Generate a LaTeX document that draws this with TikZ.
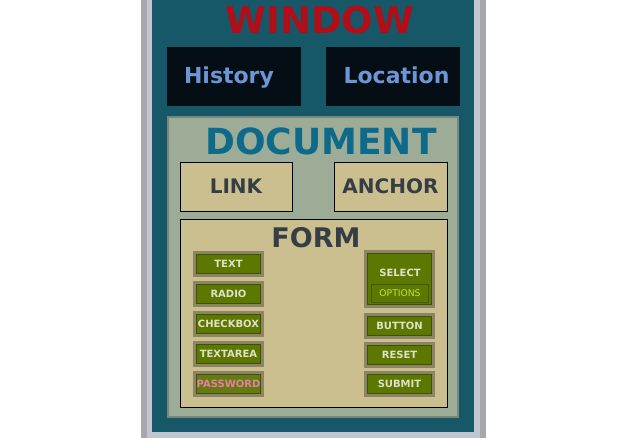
\documentclass[tikz,border=0pt]{standalone}
\usepackage{fontspec}
\setmainfont{DejaVu Sans}
\usetikzlibrary{positioning}

\definecolor{frameDark}{RGB}{166,168,174}
\definecolor{frameLight}{RGB}{194,198,206}
\definecolor{winTeal}{RGB}{22,88,104}
\definecolor{winRed}{RGB}{176,14,24}
\definecolor{barBlack}{RGB}{4,14,20}
\definecolor{barBlue}{RGB}{108,150,214}
\definecolor{docGreen}{RGB}{156,172,150}
\definecolor{docEdge}{RGB}{122,134,122}
\definecolor{docTeal}{RGB}{14,106,138}
\definecolor{formTan}{RGB}{204,191,143}
\definecolor{slate}{RGB}{52,62,68}
\definecolor{olive}{RGB}{92,120,0}
\definecolor{oliveEdge}{RGB}{62,82,0}
\definecolor{ring}{RGB}{140,132,100}
\definecolor{itemText}{RGB}{222,224,200}
\definecolor{pwPink}{RGB}{230,128,160}
\definecolor{optGreen}{RGB}{196,228,60}

\tikzset{
  bar/.style={fill=barBlack, minimum width=134pt, minimum height=59pt, inner sep=0pt},
  bartext/.style={text=barBlue, font=\bfseries\fontsize{22}{22}\selectfont},
  tanbox/.style={draw=black, line width=0.9pt, fill=formTan, inner sep=0pt},
  field/.style={preaction={draw=ring, line width=7pt}, draw=oliveEdge, line width=1.5pt,
    fill=olive, minimum width=64pt, minimum height=19pt, inner sep=0pt,
    text=itemText, font=\bfseries\fontsize{10}{10}\selectfont},
}

\begin{document}
\begin{tikzpicture}[x=1pt, y=-1pt]
  \useasboundingbox (0,0) rectangle (626,438);

  % browser frame
  \fill[frameDark] (141,0) rectangle (486,438);
  \fill[frameLight] (147,0) rectangle (480,438);
  \fill[winTeal] (152,0) rectangle (474,432);

  \node [text=winRed, font=\bfseries\fontsize{37}{37}\selectfont] (window) at (320,20) {WINDOW};
  \node [bar] (history) at (234,76.5) {};
  \node [bar] (location) at (393,76.5) {};
  \node [bartext, anchor=base] (historytext) at (229,84) {History};
  \node [bartext, anchor=base] (locationtext) at (396.5,84) {Location};

  % document
  \node [draw=docEdge, line width=2.5pt, fill=docGreen, minimum width=290pt, minimum height=300pt,
    inner sep=0pt] (document) at (313,267) {};
  \node [text=docTeal, font=\bfseries\fontsize{36}{36}\selectfont] (doctitle) at (321,141.5) {DOCUMENT};
  \node [tanbox, minimum width=112pt, minimum height=49pt, text=slate,
    font=\bfseries\fontsize{20}{20}\selectfont] (link) at (236,186.5) {LINK};
  \node [tanbox, minimum width=113pt, minimum height=49pt, text=slate,
    font=\bfseries\fontsize{20}{20}\selectfont] (anchor) at (390.5,186.5) {ANCHOR};

  % form
  \node [tanbox, minimum width=267pt, minimum height=188pt] (form) at (313.5,313) {};
  \node [text=slate, font=\bfseries\fontsize{27}{27}\selectfont] (formtitle) at (316,238) {FORM};

  \node [field] (text) at (228.5,264) {TEXT};
  \node [field, below=9.5pt of text] (radio) {RADIO};
  \node [field, below=9.5pt of radio] (checkbox) {CHECKBOX};
  \node [field, below=9.5pt of checkbox] (textarea) {TEXTAREA};
  \node [field, below=9.5pt of textarea, fill=olive!80!ring, text=pwPink] (password) {PASSWORD};

  \node [field, minimum height=51pt] (select) at (399.5,279) {};
  \node [text=itemText, font=\bfseries\fontsize{10}{10}\selectfont] (selecttitle) at (400,273) {SELECT};
  \node [draw=oliveEdge!80!olive, line width=0.8pt, fill=olive, minimum width=57pt, minimum height=18pt,
    inner sep=0pt, text=optGreen, font=\fontsize{9.2}{9.2}\selectfont] (options) at (400,293.5) {OPTIONS};

  \node [field] (button) at (399.5,326) {BUTTON};
  \node [field, below=8.5pt of button] (reset) {RESET};
  \node [field, below=8.5pt of reset] (submit) {SUBMIT};
\end{tikzpicture}
\end{document}
